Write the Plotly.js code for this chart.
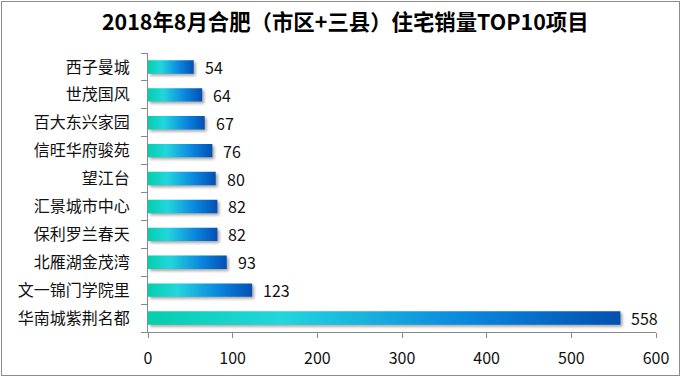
<!DOCTYPE html>
<html>
<head>
<meta charset="utf-8">
<script src="https://cdn.plot.ly/plotly-3.0.1.min.js"></script>
<style>
  html, body { margin: 0; padding: 0; background: #fff; }
  #wrap { position: relative; width: 681px; height: 377px; }
  #frame { position: absolute; left: 1px; top: 1px; width: 677px; height: 373px; border: 1px solid #8c8c8c; pointer-events: none; }
  .js-fill { filter: drop-shadow(2px 2px 1.5px rgba(0,0,0,0.35)); }
</style>
</head>
<body>
<div id="wrap"><div id="chart" style="width:681px;height:377px;"></div><div id="frame"></div></div>
<script>
// Data, bottom to top
const categories = ["华南城紫荆名都", "文一锦门学院里", "北雁湖金茂湾", "保利罗兰春天", "汇景城市中心", "望江台", "信旺华府骏苑", "百大东兴家园", "世茂国风", "西子曼城"];
const sales = [558, 123, 93, 82, 82, 80, 76, 67, 64, 54];
const xTicks = [0, 100, 200, 300, 400, 500, 600];
const titleText = "2018年8月合肥（市区+三县）住宅销量TOP10项目";

const barHalf = 0.24;
const gradient = [[0, '#04cfad'], [0.28, '#22d6dd'], [0.68, '#0a86df'], [1, '#0250b2']];
const font = "'Noto Sans CJK SC', 'Noto Sans', sans-serif";

const traces = [];
const idx = categories.map((c, i) => i);
idx.forEach(i => {
  const v = sales[i];
  traces.push({
    type: 'scatter',
    x: [0, v, v, 0, 0],
    y: [i - barHalf, i - barHalf, i + barHalf, i + barHalf, i - barHalf],
    mode: 'lines',
    line: { width: 0 },
    fill: 'toself',
    fillgradient: { type: 'horizontal', colorscale: gradient },
    hoverinfo: 'skip',
    showlegend: false
  });
});

const annotations = idx.map(i => ({
  x: sales[i], y: i, xref: 'x', yref: 'y',
  text: String(sales[i]), showarrow: false,
  xanchor: 'left', yanchor: 'middle', xshift: 9,
  font: { family: font, size: 16, color: '#111' }
}));

const layout = {
  width: 681, height: 377,
  margin: { l: 148, r: 25, t: 53, b: 45, pad: 0 },
  paper_bgcolor: '#ffffff', plot_bgcolor: '#ffffff',
  showlegend: false,
  title: {
    text: titleText,
    font: { family: font, size: 21.4, color: '#000', weight: 'bold' },
    x: 0.507, xanchor: 'center', y: 0.94, yanchor: 'middle'
  },
  xaxis: {
    range: [0, 600], tickmode: 'array', tickvals: xTicks,
    ticks: 'outside', ticklen: 5, tickcolor: '#888', tickwidth: 1,
    showline: true, linecolor: '#888', linewidth: 1,
    showgrid: false, zeroline: false, fixedrange: true,
    ticklabelstandoff: 7,
    tickfont: { family: font, size: 16, color: '#111' }
  },
  yaxis: {
    range: [-0.5, 9.5], tickmode: 'array', tickvals: idx, ticktext: categories,
    ticks: '', showline: true, linecolor: '#888', linewidth: 1,
    showgrid: false, zeroline: false, fixedrange: true,
    ticklabelstandoff: 14,
    minor: { tick0: 0.5, dtick: 1, ticks: 'outside', ticklen: 6, tickcolor: '#888', tickwidth: 1, showgrid: false },
    tickfont: { family: font, size: 16, color: '#111' }
  },
  annotations: annotations
};

Plotly.newPlot('chart', traces, layout, { displayModeBar: false, staticPlot: true });
</script>
</body>
</html>
